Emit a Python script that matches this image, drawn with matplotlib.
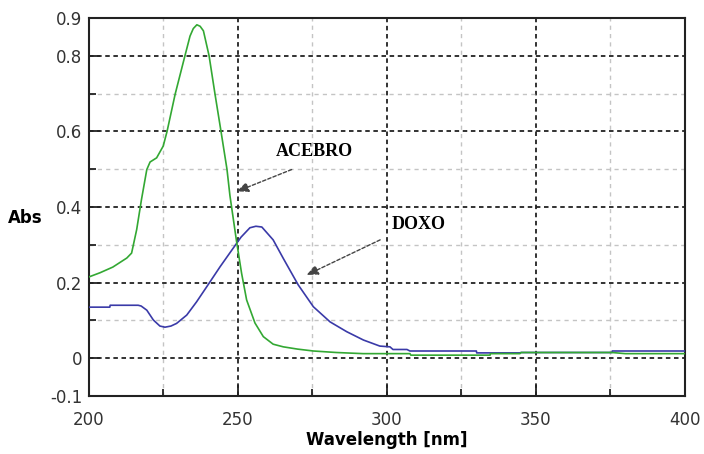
import numpy as np
import matplotlib
matplotlib.use("Agg")
import matplotlib.pyplot as plt

# ACEBRO (green) spectrum
wl_acebro = [200, 203.7, 208, 212.7, 214.3, 216, 217.6, 219.4, 220.5, 222.7, 224.9, 226.2,
             228.9, 232.2, 233.9, 235, 236.2, 237.3, 238.4, 240.3, 242.3, 244.3, 246.3, 247.3,
             249.5, 251.2, 252.9, 255.7, 258.5, 261.8, 265.2, 270, 275.3, 283, 292, 307.7,
             308, 334.6, 334.7, 344.6, 345, 375.5, 380, 400]
abs_acebro = [0.215, 0.226, 0.241, 0.265, 0.278, 0.34, 0.419, 0.499, 0.519, 0.53, 0.561, 0.6,
              0.698, 0.8, 0.852, 0.872, 0.882, 0.878, 0.866, 0.8, 0.698, 0.6, 0.5, 0.43,
              0.31, 0.225, 0.154, 0.093, 0.057, 0.037, 0.030, 0.024, 0.019, 0.015, 0.012, 0.012,
              0.008, 0.008, 0.012, 0.012, 0.015, 0.015, 0.012, 0.012]

# DOXO (blue) spectrum
wl_doxo = [200, 207, 207.1, 216.5, 217.5, 219.4, 221.6, 223.8, 225.5, 227.5, 229.4, 232.8,
           236.1, 239.6, 244, 248.3, 251, 254, 256, 258, 261.8, 265.2, 270.2, 275.3, 280.9,
           286.5, 292.1, 297.6, 301, 302, 306.7, 307.7, 330, 330.1, 344.6, 345, 375.5,
           375.6, 400]
abs_doxo = [0.135, 0.135, 0.14, 0.14, 0.138, 0.127, 0.101, 0.085, 0.082, 0.085, 0.092, 0.114,
            0.149, 0.19, 0.242, 0.29, 0.32, 0.345, 0.349, 0.347, 0.313, 0.264, 0.194, 0.136, 0.096,
            0.070, 0.048, 0.032, 0.030, 0.023, 0.023, 0.019, 0.019, 0.014, 0.014, 0.015, 0.015,
            0.019, 0.019]

x_major = [200, 250, 300, 350, 400]
x_minor = [225, 275, 325, 375]
y_major = [-0.1, 0, 0.2, 0.4, 0.6, 0.8, 0.9]
y_labels = ["-0.1", "0", "0.2", "0.4", "0.6", "0.8", "0.9"]
y_minor = [0.1, 0.3, 0.5, 0.7]

fig = plt.figure(figsize=(7.04, 4.54), dpi=100)
ax = fig.add_axes([0.1264, 0.1278, 0.8466, 0.8326])

ax.plot(wl_doxo, abs_doxo, color="#3a3aa8", lw=1.2, zorder=3)
ax.plot(wl_acebro, abs_acebro, color="#33a833", lw=1.2, zorder=4)

ax.set_xlim(200, 400)
ax.set_ylim(-0.1, 0.9)
ax.set_xticks(x_major)
ax.set_xticks(x_minor, minor=True)
ax.set_yticks(y_major)
ax.set_yticklabels(y_labels)
ax.set_yticks(y_minor, minor=True)

ax.grid(which="major", color="#222222", lw=1.3, dashes=(2.5, 2), zorder=1)
ax.grid(which="minor", color="#c4c4c4", lw=1.0, dashes=(3, 3), zorder=1)

ax.tick_params(which="major", direction="in", length=8, width=1.3, colors="#222222",
               labelsize=12, labelcolor="#333333")
ax.tick_params(which="minor", direction="in", length=5, width=1.3, colors="#222222")
ax.tick_params(axis="x", pad=11)
ax.tick_params(axis="y", pad=5)
for sp in ax.spines.values():
    sp.set_color("#222222")
    sp.set_linewidth(1.5)

ax.set_xlabel("Wavelength [nm]", fontsize=12, fontweight="bold", labelpad=1)
fig.text(8 / 704, 1 - 218 / 454, "Abs", fontsize=12, fontweight="bold", va="center", ha="left")

arrow = dict(arrowstyle="-|>,head_length=0.7,head_width=0.3", ls=(0, (2.5, 1.5)),
             lw=1.0, color="#444444", shrinkA=0, shrinkB=0)
ax.annotate("", xy=(249.6, 0.441), xytext=(268, 0.499), arrowprops=arrow, zorder=5)
ax.annotate("", xy=(273.0, 0.22), xytext=(297.7, 0.313), arrowprops=arrow, zorder=5)
ax.text(262.8, 0.546, "ACEBRO", family="Liberation Serif", fontweight="bold",
        fontsize=13, va="center", ha="left", zorder=6)
ax.text(301.5, 0.353, "DOXO", family="Liberation Serif", fontweight="bold",
        fontsize=13, va="center", ha="left", zorder=6)

fig.savefig("out.png", dpi=100)
